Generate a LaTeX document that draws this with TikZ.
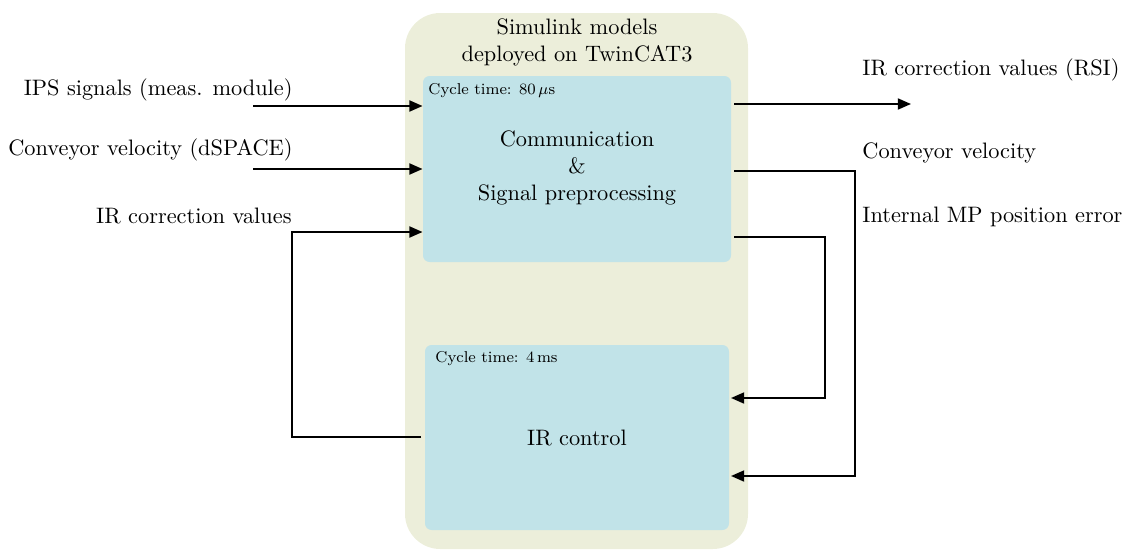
\documentclass[tikz,border=0pt]{standalone}
\usetikzlibrary{fit,arrows.meta,calc}
\definecolor{olivebg}{HTML}{ECEEDA}
\definecolor{bluebox}{HTML}{C1E3E8}
\newcommand{\cyctext}[1]{\scalebox{0.895}{\footnotesize #1}}
\begin{document}
\begin{tikzpicture}[x=0.4545pt,y=-0.4545pt,
  outerbox/.style={fill=olivebg,draw=none,rounded corners=16pt,inner sep=0pt},
  blockbox/.style={fill=bluebox,draw=none,rounded corners=3pt,inner sep=0pt},
  lbl/.style={inner sep=0pt,font=\fontsize{10.15}{12.3}\selectfont},
  cyc/.style={inner sep=0pt,anchor=west},
  conn/.style={line width=0.9pt,-{Triangle[length=6pt,width=5pt]}}]
\useasboundingbox (0,0) rectangle (1125,550);
\node[outerbox,fit={(405,13) (748,549)}] (outer) {};
\node[blockbox,fit={(423,76) (731,262)}] (top) {};
\node[blockbox,fit={(425,345) (729,530)}] (bot) {};
\node[lbl,align=center] (title) at (577,42) {Simulink models\\deployed on TwinCAT3};
\node[lbl,align=center] (toptxt) at (577,168) {Communication\\\&\\Signal preprocessing};
\node[lbl] (bottxt) at (577,438) {IR control};
\node[cyc] (cyc1) at (428,91) {\cyctext{Cycle time: 80\,$\mu$s}};
\node[cyc] (cyc2) at (435,359) {\cyctext{Cycle time: 4\,ms}};
% left labels
\node[lbl,anchor=east] (l1) at (293,90) {IPS signals (meas. module)};
\node[lbl,anchor=east] (l2) at (293,150) {Conveyor velocity (dSPACE)};
\node[lbl,anchor=east] (l3) at (292,216) {IR correction values};
% right labels
\node[lbl,anchor=west] (r1) at (862,70) {IR correction values (RSI)};
\node[lbl,anchor=west] (r2) at (862,153) {Conveyor velocity};
\node[lbl,anchor=west] (r3) at (862,217) {Internal MP position error};
% coordinates
\coordinate (in1) at (253,106);
\coordinate (in2) at (253,169);
\coordinate (fb1) at (421,437);
\coordinate (fb2) at (292,437);
\coordinate (fb3) at (292,232);
\coordinate (o1s) at (734,104);
\coordinate (o1e) at (911,104);
\coordinate (o2s) at (734,171);
\coordinate (o2a) at (855,171);
\coordinate (o2b) at (855,476);
\coordinate (o2e) at (731,476);
\coordinate (o3s) at (734,237);
\coordinate (o3a) at (825,237);
\coordinate (o3b) at (825,398);
\coordinate (o3e) at (731,398);
% connectors
\draw[conn] (in1) -- (top.west |- in1);
\draw[conn] (in2) -- (top.west |- in2);
\draw[conn] (fb1) -- (fb2) -- (fb3) -- (top.west |- fb3);
\draw[conn] (o1s) -- (o1e);
\draw[conn] (o2s) -- (o2a) -- (o2b) -- (o2e);
\draw[conn] (o3s) -- (o3a) -- (o3b) -- (o3e);
\end{tikzpicture}
\end{document}
